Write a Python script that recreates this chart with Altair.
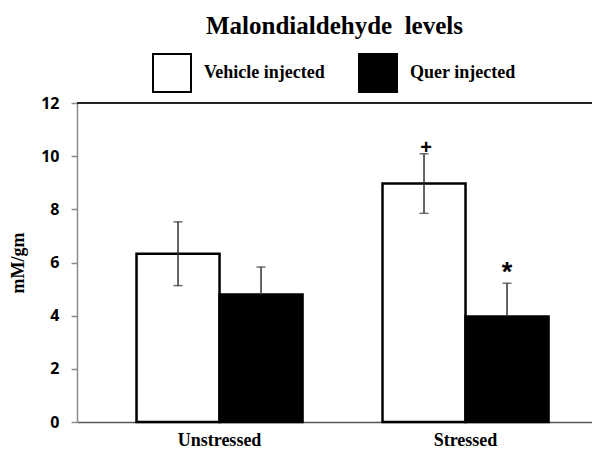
import altair as alt
import pandas as pd

# ---- data ----
group_order = ["Unstressed", "Stressed"]
series_order = ["Vehicle injected", "Quer injected"]
groups = ["Unstressed", "Unstressed", "Stressed", "Stressed"]
series = ["Vehicle injected", "Quer injected", "Vehicle injected", "Quer injected"]
means = [6.33, 4.80, 8.97, 3.97]
errors = [1.20, 1.03, 1.12, 1.25]
two_sided = [True, False, True, False]
signs = ["", "", "+", "*"]
y_ticks = [0, 2, 4, 6, 8, 10, 12]

# ---- tables built from the lists ----
bars_df = pd.DataFrame({"group": groups, "series": series, "mean": means, "err": errors})
bars_df["upper"] = [m + e for m, e in zip(means, errors)]
bars_df["lower"] = [m - e if t else m for m, e, t in zip(means, errors, two_sided)]

cap_rows = []
for g, s, m, e, t in zip(groups, series, means, errors, two_sided):
    cap_rows.append({"group": g, "series": s, "cap": m + e})
    if t:
        cap_rows.append({"group": g, "series": s, "cap": m - e})
caps_df = pd.DataFrame(cap_rows)

sign_df = pd.DataFrame([
    {"group": g, "series": s, "pos": m + e, "sign": t}
    for g, s, m, e, t in zip(groups, series, means, errors, signs) if t
])

# ---- shared encodings ----
x_enc = alt.X(
    "group:N", sort=group_order,
    scale=alt.Scale(paddingInner=0.325, paddingOuter=0.2093, align=0.578),
    axis=alt.Axis(title=None, labelAngle=0, ticks=False, domainColor="#555555",
                  domainWidth=1.5, labelFont="Liberation Serif", labelFontSize=18,
                  labelFontWeight="bold", labelColor="black", labelPadding=9),
)
xo_enc = alt.XOffset("series:N", sort=series_order,
                     scale=alt.Scale(paddingInner=0, paddingOuter=0))
y_scale = alt.Scale(domain=[0, 12], nice=False)
y_axis = alt.Axis(title="mM/gm", values=y_ticks, grid=False, domainColor="#8c8c8c",
                  domainWidth=1.5, tickColor="#8c8c8c", tickSize=6, tickWidth=1.5,
                  labelFont="Open Sans", labelFontSize=16, labelFontWeight="bold",
                  labelColor="black", labelPadding=12, titleFont="Liberation Serif",
                  titleFontSize=18, titleFontWeight="bold", titleColor="black",
                  titleX=-50, titleBaseline="bottom")

bars = alt.Chart(bars_df).mark_bar(stroke="black", strokeWidth=2.5).encode(
    x=x_enc, xOffset=xo_enc,
    y=alt.Y("mean:Q", scale=y_scale, axis=y_axis),
    fill=alt.Fill("series:N", sort=series_order,
                  scale=alt.Scale(domain=series_order, range=["white", "black"]),
                  legend=alt.Legend(title=None, orient="none", legendX=75, legendY=-50,
                                    direction="horizontal", symbolType="square",
                                    symbolSize=1444, symbolStrokeColor="black",
                                    symbolStrokeWidth=2, labelFont="Liberation Serif",
                                    labelFontSize=18, labelFontWeight="bold",
                                    labelColor="black", labelOffset=12,
                                    columnPadding=30, padding=0)),
)

rules = alt.Chart(bars_df).mark_rule(color="#333333", strokeWidth=1.5).encode(
    x=x_enc, xOffset=xo_enc,
    y=alt.Y("lower:Q", scale=y_scale, axis=y_axis),
    y2="upper:Q",
)

caps = alt.Chart(caps_df).mark_tick(color="#333333", size=9, thickness=1.5).encode(
    x=x_enc, xOffset=xo_enc,
    y=alt.Y("cap:Q", scale=y_scale, axis=y_axis),
)

plus_text = alt.Chart(sign_df).transform_filter(alt.datum.sign == "+").mark_text(
    font="Liberation Sans", fontSize=20, fontWeight="bold", color="black",
    baseline="alphabetic", dx=2, dy=0).encode(
    x=x_enc, xOffset=xo_enc,
    y=alt.Y("pos:Q", scale=y_scale, axis=y_axis),
    text="sign:N",
)

star_text = alt.Chart(sign_df).transform_filter(alt.datum.sign == "*").mark_text(
    font="Liberation Sans", fontSize=27, fontWeight="bold", color="black",
    baseline="alphabetic", dx=0, dy=-2).encode(
    x=x_enc, xOffset=xo_enc,
    y=alt.Y("pos:Q", scale=y_scale, axis=y_axis),
    text="sign:N",
)

top_line = alt.Chart(bars_df).mark_rule(color="#222222", strokeWidth=2).encode(
    y=alt.datum(12, scale=y_scale),
)

chart = alt.layer(bars, rules, caps, plus_text, star_text, top_line).properties(
    width=515, height=319,
    title=alt.Title("Malondialdehyde\u00a0 levels", font="Liberation Serif", fontSize=25,
                    fontWeight="bold", color="black", anchor="middle", frame="group",
                    offset=14),
    autosize=alt.AutoSizeParams(type="none"),
    padding={"left": 69, "top": 95, "right": 0, "bottom": 28},
).configure_view(stroke=None)

chart.save("out.html", embed_options={"renderer": "svg", "actions": False})
